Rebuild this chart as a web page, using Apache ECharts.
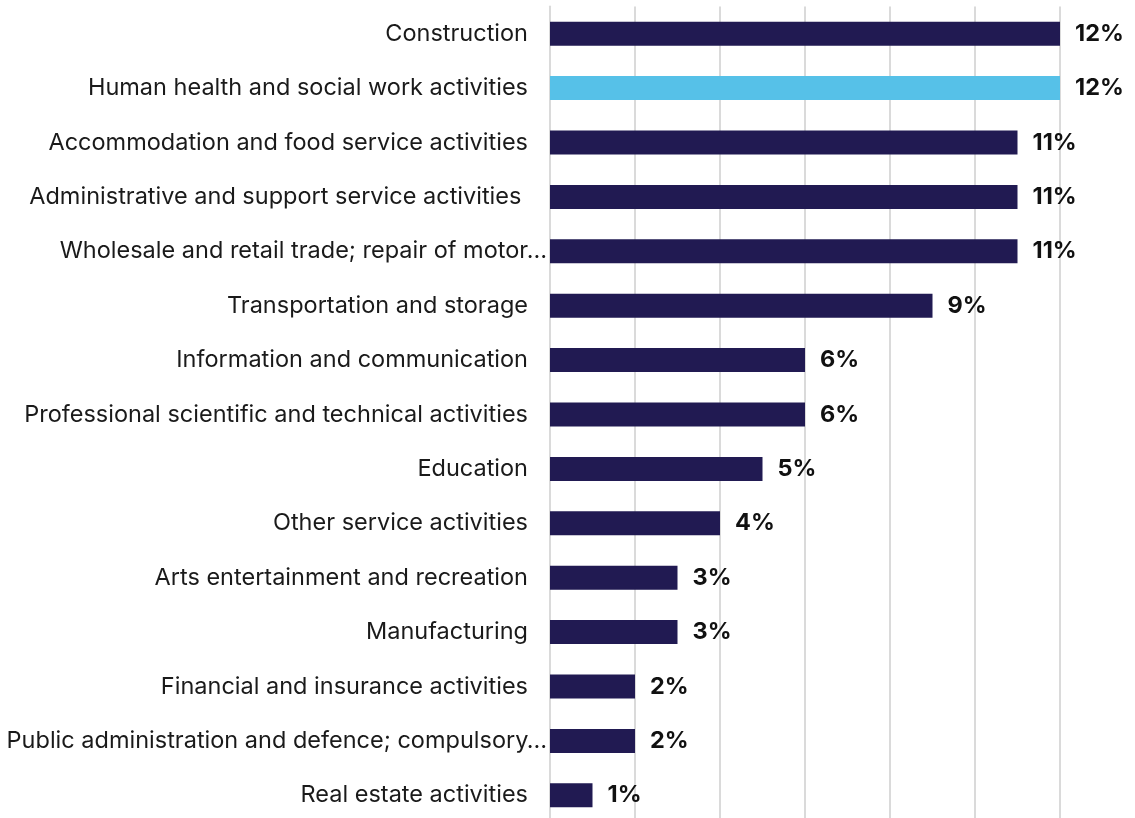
<!DOCTYPE html>
<html>
<head>
<meta charset="utf-8">
<script src="https://cdn.jsdelivr.net/npm/echarts@6/dist/echarts.min.js"></script>
<style>
  html, body { margin: 0; padding: 0; background: #ffffff; overflow: hidden; }
  #chart { width: 1135px; height: 823px; }
</style>
</head>
<body>
<div id="chart"></div>
<script>
// Share of workforce by industry sector (%)
const categories = [
  'Construction',
  'Human health and social work activities',
  'Accommodation and food service activities',
  'Administrative and support service activities ',
  'Wholesale and retail trade; repair of motor…',
  'Transportation and storage',
  'Information and communication',
  'Professional scientific and technical activities',
  'Education',
  'Other service activities',
  'Arts entertainment and recreation',
  'Manufacturing',
  'Financial and insurance activities',
  'Public administration and defence; compulsory…',
  'Real estate activities'
];
const values = [12, 12, 11, 11, 11, 9, 6, 6, 5, 4, 3, 3, 2, 2, 1];
const highlighted = ['Human health and social work activities'];

const DARK = '#211a52';
const LIGHT = '#56c1e8';
const FONT = 'Inter';
const SIZE = 23.5;

const chart = echarts.init(document.getElementById('chart'), null, { renderer: 'canvas' });

chart.setOption({
  animation: false,
  backgroundColor: '#ffffff',
  grid: { left: 550, right: 75, top: 6.5, height: 816 },
  xAxis: {
    type: 'value',
    min: 0,
    max: 12,
    interval: 2,
    axisLabel: { show: false },
    axisLine: { show: false },
    axisTick: { show: false },
    splitLine: { show: true, lineStyle: { color: '#dadada', width: 2 } }
  },
  yAxis: {
    type: 'category',
    inverse: true,
    data: categories,
    axisLine: { show: true, lineStyle: { color: '#dadada', width: 2 } },
    axisTick: { show: false },
    axisLabel: {
      margin: 3,
      fontFamily: FONT,
      fontSize: SIZE,
      color: '#1a1a1a',
      formatter: function (v) {
        return v.endsWith('…') ? '{e|' + v + '}' : '{n|' + v + '}';
      },
      rich: {
        n: { fontFamily: FONT, fontSize: SIZE, color: '#1a1a1a', padding: [0, 19, 0, 0] },
        e: { fontFamily: FONT, fontSize: SIZE, color: '#1a1a1a' }
      }
    }
  },
  series: [{
    type: 'bar',
    barWidth: 24,
    data: values.map(function (v, i) {
      return {
        value: v,
        itemStyle: { color: highlighted.indexOf(categories[i]) >= 0 ? LIGHT : DARK }
      };
    }),
    label: {
      show: true,
      position: 'right',
      distance: 15,
      fontFamily: FONT,
      fontSize: SIZE,
      fontWeight: 'bold',
      color: '#111111',
      formatter: '{c}%'
    }
  }]
});
</script>
</body>
</html>
